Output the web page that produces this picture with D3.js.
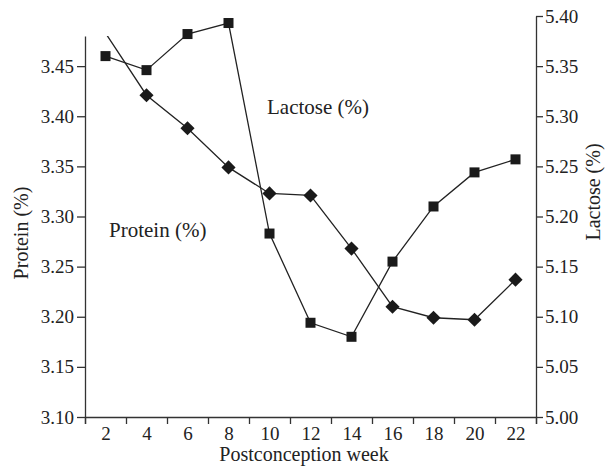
<!DOCTYPE html>
<html>
<head>
<meta charset="utf-8">
<script src="https://cdn.jsdelivr.net/npm/d3@7"></script>
<style>
  body { margin: 0; background: #fff; }
  svg { display: block; }
  text { font-family: "Liberation Serif", "DejaVu Serif", serif; fill: #222; }
  .axis path, .axis line { stroke: #333; stroke-width: 1.3; }
  .axis text { font-size: 19px; fill: #222; font-family: "Liberation Serif", "DejaVu Serif", serif; }
</style>
</head>
<body>
<svg id="chart" width="606" height="467"></svg>
<script>
const weeks = [2, 4, 6, 8, 10, 12, 14, 16, 18, 20, 22];
const protein = [3.460, 3.446, 3.482, 3.493, 3.283, 3.194, 3.180, 3.255, 3.310, 3.344, 3.357];
const lactose = [5.383, 5.321, 5.288, 5.249, 5.223, 5.221, 5.168, 5.110, 5.099, 5.097, 5.137];
const proteinTicks = [3.10, 3.15, 3.20, 3.25, 3.30, 3.35, 3.40, 3.45];
const lactoseTicks = [5.00, 5.05, 5.10, 5.15, 5.20, 5.25, 5.30, 5.35, 5.40];
const weekBounds = [1, 3, 5, 7, 9, 11, 13, 15, 17, 19, 21, 23];

const svg = d3.select('#chart');
const margin = { top: 16, right: 70, bottom: 50, left: 85 };
const width = +svg.attr('width');
const height = +svg.attr('height');
const bottom = height - margin.bottom;

const x = d3.scaleLinear()
  .domain([1, 23])
  .range([margin.left, width - margin.right]);

// both axes share the same pixel scale (0.05 per ~50px)
const yR = d3.scaleLinear()
  .domain([5.00, 5.40])
  .range([bottom, margin.top]);

const yL = d3.scaleLinear()
  .domain([3.10, 3.48])
  .range([bottom, yR(5.38)]);

const plotTop = yL(3.48);

svg.append('defs').append('clipPath').attr('id', 'clip')
  .append('rect')
  .attr('x', margin.left).attr('y', plotTop)
  .attr('width', x(23) - x(1)).attr('height', bottom - plotTop);

// x axis: tick marks at band edges, labels at band centres
svg.append('g')
  .attr('class', 'axis')
  .attr('transform', `translate(0,${bottom})`)
  .call(d3.axisBottom(x).tickValues(weekBounds).tickFormat('').tickSizeOuter(0).tickSize(7));

const xl = svg.append('g')
  .attr('class', 'axis')
  .attr('transform', `translate(0,${bottom})`)
  .call(d3.axisBottom(x).tickValues(weeks).tickSize(0).tickPadding(10).tickFormat(d3.format('d')));
xl.select('.domain').remove();

svg.append('g')
  .attr('class', 'axis')
  .attr('transform', `translate(${margin.left},0)`)
  .call(d3.axisLeft(yL).tickValues(proteinTicks).tickFormat(d3.format('.2f')).tickSize(8).tickSizeOuter(0).tickPadding(3));

svg.append('g')
  .attr('class', 'axis')
  .attr('transform', `translate(${x(23)},0)`)
  .call(d3.axisRight(yR).tickValues(lactoseTicks).tickFormat(d3.format('.2f')).tickSize(7).tickSizeOuter(0).tickPadding(2));

const proteinPts = weeks.map((w, i) => ({ w, v: protein[i] }));
const lactosePts = weeks.map((w, i) => ({ w, v: lactose[i] }));

svg.append('path')
  .datum(proteinPts)
  .attr('fill', 'none')
  .attr('stroke', '#222')
  .attr('stroke-width', 1.3)
  .attr('d', d3.line().x(d => x(d.w)).y(d => yL(d.v)));

svg.append('path')
  .datum(lactosePts)
  .attr('clip-path', 'url(#clip)')
  .attr('fill', 'none')
  .attr('stroke', '#222')
  .attr('stroke-width', 1.3)
  .attr('d', d3.line().x(d => x(d.w)).y(d => yR(d.v)));

const sq = 10;
svg.selectAll('.sq')
  .data(proteinPts)
  .enter().append('rect')
  .attr('class', 'sq')
  .attr('x', d => x(d.w) - sq / 2)
  .attr('y', d => yL(d.v) - sq / 2)
  .attr('width', sq)
  .attr('height', sq)
  .attr('fill', '#1a1a1a');

// first lactose point runs off the top of the plot, so no marker there
const dm = 10;
svg.selectAll('.dm')
  .data(lactosePts.slice(1))
  .enter().append('rect')
  .attr('class', 'dm')
  .attr('x', -dm / 2)
  .attr('y', -dm / 2)
  .attr('width', dm)
  .attr('height', dm)
  .attr('transform', d => `translate(${x(d.w)},${yR(d.v)}) rotate(45)`)
  .attr('fill', '#1a1a1a');

// labels
svg.append('text')
  .attr('x', 109).attr('y', 237)
  .style('font-size', '21px')
  .text('Protein (%)');

svg.append('text')
  .attr('x', 267).attr('y', 114)
  .style('font-size', '21px')
  .text('Lactose (%)');

svg.append('text')
  .attr('transform', 'translate(28,233) rotate(-90)')
  .attr('text-anchor', 'middle')
  .style('font-size', '20px')
  .text('Protein (%)');

svg.append('text')
  .attr('transform', 'translate(600,192) rotate(-90)')
  .attr('text-anchor', 'middle')
  .style('font-size', '20px')
  .text('Lactose (%)');

svg.append('text')
  .attr('x', 304).attr('y', 461)
  .attr('text-anchor', 'middle')
  .style('font-size', '20px')
  .text('Postconception week');
</script>
</body>
</html>
